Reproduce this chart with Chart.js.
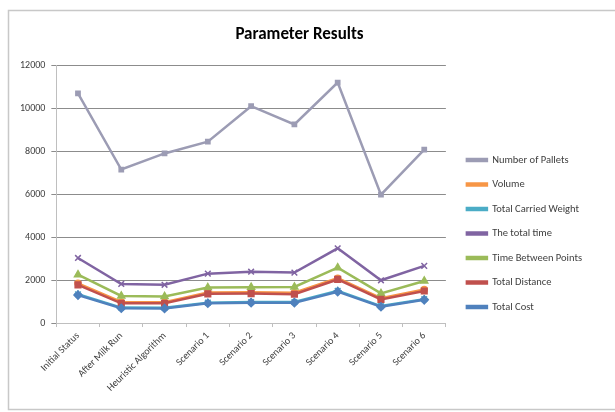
<!DOCTYPE html>
<html>
<head>
<meta charset="utf-8">
<script src="https://cdn.jsdelivr.net/npm/chart.js@4.4.1/dist/chart.umd.min.js"></script>
<style>
    html, body { margin: 0; padding: 0; background: #fff; }
    #wrap { position: relative; width: 615px; height: 412px; }
</style>
</head>
<body>
<div id="wrap"><canvas id="paramChart" width="615" height="412"></canvas></div>
<script>
// Scenario labels along the x axis
const scenarios = ['Initial Status', 'After Milk Run', 'Heuristic Algorithm', 'Scenario 1',
    'Scenario 2', 'Scenario 3', 'Scenario 4', 'Scenario 5', 'Scenario 6'];

// One array per measured parameter
const numberOfPallets = [10700, 7150, 7900, 8450, 10100, 9250, 11200, 5980, 8080];
const volume = [1850, 980, 970, 1420, 1430, 1410, 2090, 1160, 1560];
const totalCarriedWeight = [1340, 720, 710, 950, 980, 980, 1500, 790, 1110];
const totalTime = [3030, 1820, 1780, 2300, 2390, 2350, 3480, 1990, 2660];
const timeBetweenPoints = [2250, 1260, 1240, 1650, 1670, 1680, 2580, 1380, 1960];
const totalDistance = [1780, 920, 920, 1360, 1370, 1340, 2030, 1100, 1490];
const totalCost = [1300, 690, 680, 920, 950, 950, 1460, 760, 1080];

const yTicks = [0, 2000, 4000, 6000, 8000, 10000, 12000];

// Light grey frame round the whole chart
const framePlugin = {
    id: 'frame',
    beforeDraw(chart) {
        const ctx = chart.ctx;
        ctx.save();
        ctx.fillStyle = '#fff';
        ctx.fillRect(0, 0, chart.width, chart.height);
        ctx.strokeStyle = '#c8c8c8';
        ctx.lineWidth = 1.5;
        ctx.strokeRect(8.5, 10.5, chart.width, chart.height - 13);
        ctx.restore();
    },
    // move the legend block down and away from the plot
    afterLayout(chart) {
        const lg = chart.legend;
        if (lg) {
            lg.top += 28;
            lg.bottom += 28;
            lg.left += 7;
            lg.right += 7;
        }
    }
};

// later series are drawn over the earlier ones
function series(idx, label, data, color, pointStyle, radius) {
    return {
        label: label,
        data: data,
        order: 10 - idx,
        borderColor: color,
        backgroundColor: color,
        pointBackgroundColor: color,
        pointBorderColor: color,
        pointStyle: pointStyle,
        pointRadius: radius,
        pointBorderWidth: 1.5,
        borderWidth: 2.5,
        tension: 0
    };
}

Chart.defaults.font.family = 'Calibri, Carlito, "Liberation Sans", Arial, sans-serif';
Chart.defaults.color = '#404040';

new Chart(document.getElementById('paramChart'), {
    type: 'line',
    data: {
        labels: scenarios,
        datasets: [
            series(0, 'Number of Pallets', numberOfPallets, '#9c9cb4', 'rect', 3),
            series(1, 'Volume', volume, '#f79646', 'circle', 3),
            series(2, 'Total Carried Weight', totalCarriedWeight, '#4bacc6', 'star', 4),
            series(3, 'The total time', totalTime, '#8064a2', 'crossRot', 4),
            series(4, 'Time Between Points', timeBetweenPoints, '#9bbb59', 'triangle', 4),
            series(5, 'Total Distance', totalDistance, '#c0504d', 'rect', 4),
            series(6, 'Total Cost', totalCost, '#4f81bd', 'rectRot', 4)
        ]
    },
    options: {
        responsive: false,
        animation: false,
        layout: { padding: { left: 14, right: 30, top: 14, bottom: 15 } },
        plugins: {
            title: {
                display: true,
                text: 'Parameter Results',
                color: '#000',
                font: { size: 17, weight: 'bold' },
                padding: { top: 11, bottom: 20 }
            },
            legend: {
                position: 'right',
                labels: {
                    boxWidth: 20,
                    boxHeight: 2,
                    padding: 14,
                    color: '#404040',
                    font: { size: 10.5 },
                    sort: (a, b) => a.datasetIndex - b.datasetIndex
                }
            },
            tooltip: { enabled: false }
        },
        scales: {
            x: {
                offset: true,
                grid: {
                    display: true,
                    offset: true,
                    drawOnChartArea: false,
                    tickLength: 4,
                    color: '#bfbfbf'
                },
                border: { color: '#bfbfbf' },
                ticks: {
                    minRotation: 45,
                    maxRotation: 45,
                    autoSkip: false,
                    font: { size: 10 },
                    color: '#404040'
                }
            },
            y: {
                min: 0,
                max: 12000,
                afterBuildTicks(axis) {
                    axis.ticks = yTicks.map(v => ({ value: v }));
                },
                grid: { color: '#8c8c8c', tickLength: 5 },
                border: { color: '#bfbfbf' },
                ticks: {
                    font: { size: 10 },
                    color: '#404040',
                    padding: 6,
                    callback: v => String(v)
                }
            }
        }
    },
    plugins: [framePlugin]
});
</script>
</body>
</html>
